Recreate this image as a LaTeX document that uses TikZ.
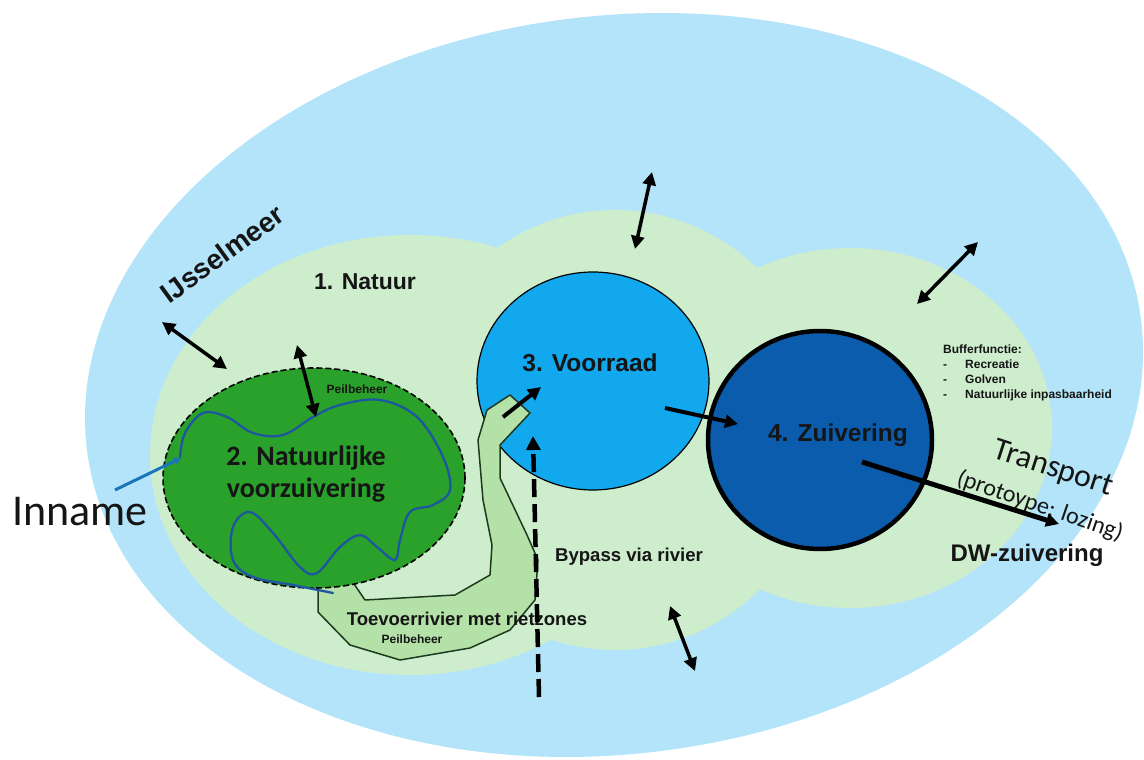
\documentclass[tikz,border=0pt]{standalone}
\usepackage{fontspec}
\setmainfont{Liberation Sans}
\newfontfamily\calibri{Carlito}
\usetikzlibrary{arrows.meta}
\definecolor{lake}{HTML}{B3E4F9}
\definecolor{natuur}{HTML}{CDEDCD}
\definecolor{marsh}{HTML}{2AA12A}
\definecolor{voorraad}{HTML}{12A8EE}
\definecolor{zuiv}{HTML}{0B5CAC}
\definecolor{river}{HTML}{1D57A0}
\definecolor{innameblue}{HTML}{1C74BA}
\definecolor{armfill}{HTML}{B4E1A8}
\definecolor{armline}{HTML}{1E3A1E}
\definecolor{ink}{HTML}{151515}
\tikzset{
  dbl/.style={line width=3.5pt, draw=black, {Triangle[length=13pt,width=13pt]}-{Triangle[length=13pt,width=13pt]}},
  onearrow/.style={line width=4pt, draw=black, -{Triangle[length=13pt,width=13pt]}},
  lbl/.style={inner sep=0pt, text=ink, font=\bfseries\fontsize{#1}{#1}\selectfont},
  small/.style={inner sep=0pt, text=ink, font=\bfseries\fontsize{12}{15}\selectfont}
}
\begin{document}
\begin{tikzpicture}[x=1pt,y=-1pt]
\useasboundingbox (0,0) rectangle (1144,760);
% lake
\fill[lake, rotate around={7:(614,385)}] (614,385) ellipse [x radius=531pt, y radius=369pt];
% nature zone (three overlapping lobes)
\fill[natuur] (410,455) ellipse [x radius=260pt, y radius=220pt];
\fill[natuur] (615,430) ellipse [x radius=210pt, y radius=220pt];
\fill[natuur] (850,428) ellipse [x radius=202pt, y radius=180pt];
% storage and purification
\draw[fill=voorraad, line width=1.2pt] (593,381) ellipse [x radius=116pt, y radius=109pt];
\draw[fill=zuiv, line width=4.5pt] (820,440) ellipse [x radius=112pt, y radius=109pt];
% supply river arm
\fill[armfill] (318,585) -- (318,612) -- (350,645) -- (400,660) -- (470,648) -- (510,630) -- (535,600) -- (538,560) -- (527,535) -- (500,478) -- (500,445) -- (530,413) -- (510,395) -- (487,410) -- (478,440) -- (483,500) -- (492,545) -- (490,575) -- (455,595) -- (365,600) -- (350,578) -- cycle;
\draw[armline, line width=1.5pt, line join=round] (318,585) -- (318,612) -- (350,645) -- (400,660) -- (470,648) -- (510,630) -- (535,600) -- (538,560) -- (527,535) -- (500,478) -- (500,445) -- (530,413) -- (510,395) -- (487,410) -- (478,440) -- (483,500) -- (492,545) -- (490,575) -- (455,595) -- (365,600) -- (350,578);
% marsh
\draw[fill=marsh, line width=1.6pt, dash pattern=on 6pt off 3pt] (314,478) ellipse [x radius=151pt, y radius=110pt];
% meandering river
\draw[river, line width=2.3pt, line cap=round] plot[smooth, tension=0.6] coordinates {
 (180,457) (185,433) (203,413) (227,417) (253,433) (283,435) (313,417) (340,405) (380,400)
 (417,417) (443,457) (450,490) (433,505) (410,512) (400,540) (395,560) (377,547) (360,535)
 (340,547) (317,573) (300,567) (273,533) (250,512) (233,527) (233,560) (253,577) (293,585) (333,593)};
% Inname
\node[inner sep=0pt, text=ink, font=\calibri\fontsize{44}{44}\selectfont] (inname) at (80,512) {Inname};
\coordinate (innstart) at (115,490);
\coordinate (innend) at (181,458);
\draw[innameblue, line width=3pt, -{Triangle[length=7pt,width=7pt]}] (innstart) -- (innend);
% texts
\node[lbl=28, rotate=36] (ijssel) at (222,254) {IJsselmeer};
\node[lbl=23] (natuurlbl) at (365,282) {1. Natuur};
\node[small] (peil1) at (357,389) {Peilbeheer};
\node[inner sep=0pt, text=ink, align=center, font=\calibri\bfseries\fontsize{28}{32}\selectfont] (marshlbl) at (306,474) {2. Natuurlijke\\voorzuivering};
\node[lbl=24.5] (voorlbl) at (590,363) {3. Voorraad};
\node[lbl=24.5] (zuivlbl) at (838,435) {4. Zuivering};
\node[small, anchor=north west, align=left] (buffer) at (943,345) {Bufferfunctie:\\\makebox[22pt][l]{-}Recreatie\\\makebox[22pt][l]{-}Golven\\\makebox[22pt][l]{-}Natuurlijke inpasbaarheid};
\node[inner sep=0pt, text=ink, rotate=-18, font=\calibri\fontsize{32}{32}\selectfont] (transport) at (1053,469) {Transport};
\node[inner sep=0pt, text=ink, rotate=-19, font=\calibri\fontsize{24}{24}\selectfont] (proto) at (1040,506) {(protoype: lozing)};
\node[lbl=24] (dw) at (1027,555) {DW-zuivering};
\node[lbl=18.6] (bypass) at (629,557) {Bypass via rivier};
\node[lbl=18.5] (toevoer) at (467,619) {Toevoerrivier met rietzones};
\node[small] (peil2) at (412,639) {Peilbeheer};
% arrows
\coordinate (hookA) at (503,417); \coordinate (hookB) at (541,387);
\draw[onearrow] (hookA) -- (hookB);
\coordinate (bypA) at (539,697); \coordinate (bypB) at (533,436);
\draw[line width=4.5pt, dash pattern=on 18pt off 7pt, -{Triangle[length=14pt,width=14pt]}] (bypA) -- (bypB);
\coordinate (vzA) at (665,408); \coordinate (vzB) at (738,424);
\draw[onearrow] (vzA) -- (vzB);
\coordinate (trA) at (862,462); \coordinate (trB) at (1059,524);
\draw[onearrow, line width=5pt] (trA) -- (trB);
\coordinate (d1a) at (162,322); \coordinate (d1b) at (227,369);
\draw[dbl] (d1a) -- (d1b);
\coordinate (d2a) at (297,345); \coordinate (d2b) at (316,417);
\draw[dbl] (d2a) -- (d2b);
\coordinate (d3a) at (652,172); \coordinate (d3b) at (635,249);
\draw[dbl] (d3a) -- (d3b);
\coordinate (d4a) at (978,242); \coordinate (d4b) at (917,304);
\draw[dbl] (d4a) -- (d4b);
\coordinate (d5a) at (670,606); \coordinate (d5b) at (695,671);
\draw[dbl] (d5a) -- (d5b);
\end{tikzpicture}
\end{document}
